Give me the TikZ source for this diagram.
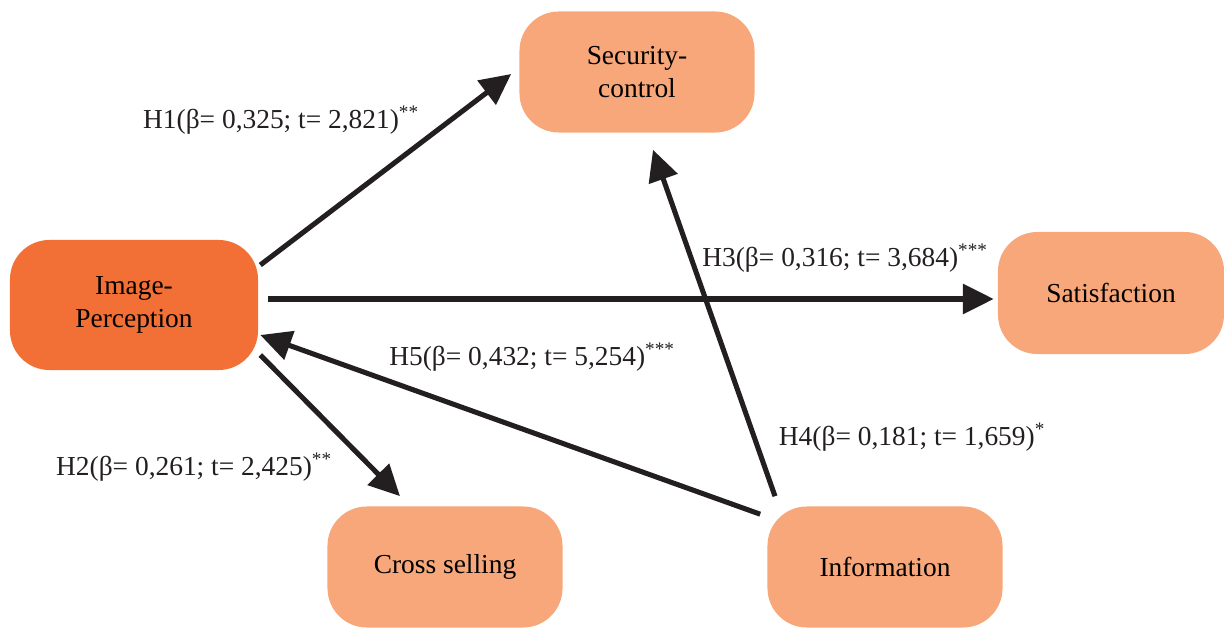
\documentclass[tikz,border=0pt]{standalone}
\usepackage{fontspec}
\setmainfont{Liberation Serif}
\definecolor{ImageOrange}{RGB}{242,111,54}
\definecolor{FactorOrange}{RGB}{247,167,122}
\definecolor{ArrowBlack}{RGB}{35,31,32}
\usetikzlibrary{positioning,shapes,arrows.meta,calc}
\tikzset{>={Triangle[length=22pt,width=21pt]}}
\tikzset{
  factor/.style={rectangle, rounded corners=28pt, fill=FactorOrange, align=center,
    minimum width=5.875cm, minimum height=3.025cm, font=\fontsize{19.5}{23}\selectfont},
  path/.style={ArrowBlack, line width=3.6pt, ->},
  hyp/.style={font=\fontsize{19.5}{23}\selectfont, text=ArrowBlack}
}

\begin{document}
\begin{tikzpicture}[x=0.025cm, y=-0.025cm]
            \useasboundingbox (0,0) rectangle (1224,628);
            % constructs
            \node[factor, fill=ImageOrange, minimum width=6.2cm, minimum height=3.25cm] (ip) at (134,305) {Image-\\Perception};
            \node[factor] (sc) at (637,72) {Security-\\control};
            \node[factor, minimum width=5.65cm, minimum height=3.05cm] (sat) at (1111,293) {Satisfaction};
            \node[factor] (cs) at (445,567) {Cross selling};
            \node[factor] (info) at (885,567) {Information};
            % hypotheses
            \draw[path] ($(ip.east)+(2,-40)$) -- ($(sc.west)+(-8,2)$);
            \draw[path] ($(ip.east)+(10,-6)$) -- ($(sat.west)+(-4,6)$);
            \draw[path] ($(info.north west)+(-7,8)$) -- ($(ip.east)+(2,30)$);
            \draw[path] ($(ip.east)+(2,50)$) -- ($(cs.north)+(-45,-10)$);
            \draw[path] ($(info.north)+(-110,-10)$) -- ($(sc.south)+(16,17)$);
            \node[hyp] (h1) at (281,120) {H1(β= 0,325; t= 2,821)\textsuperscript{**}};
            \node[hyp] (h3) at (845,258) {H3(β= 0,316; t= 3,684)\textsuperscript{***}};
            \node[hyp] (h5) at (532,357) {H5(β= 0,432; t= 5,254)\textsuperscript{***}};
            \node[hyp] (h2) at (194,467) {H2(β= 0,261; t= 2,425)\textsuperscript{**}};
            \node[hyp] (h4) at (912,437) {H4(β= 0,181; t= 1,659)\textsuperscript{*}};
\end{tikzpicture}
\end{document}
